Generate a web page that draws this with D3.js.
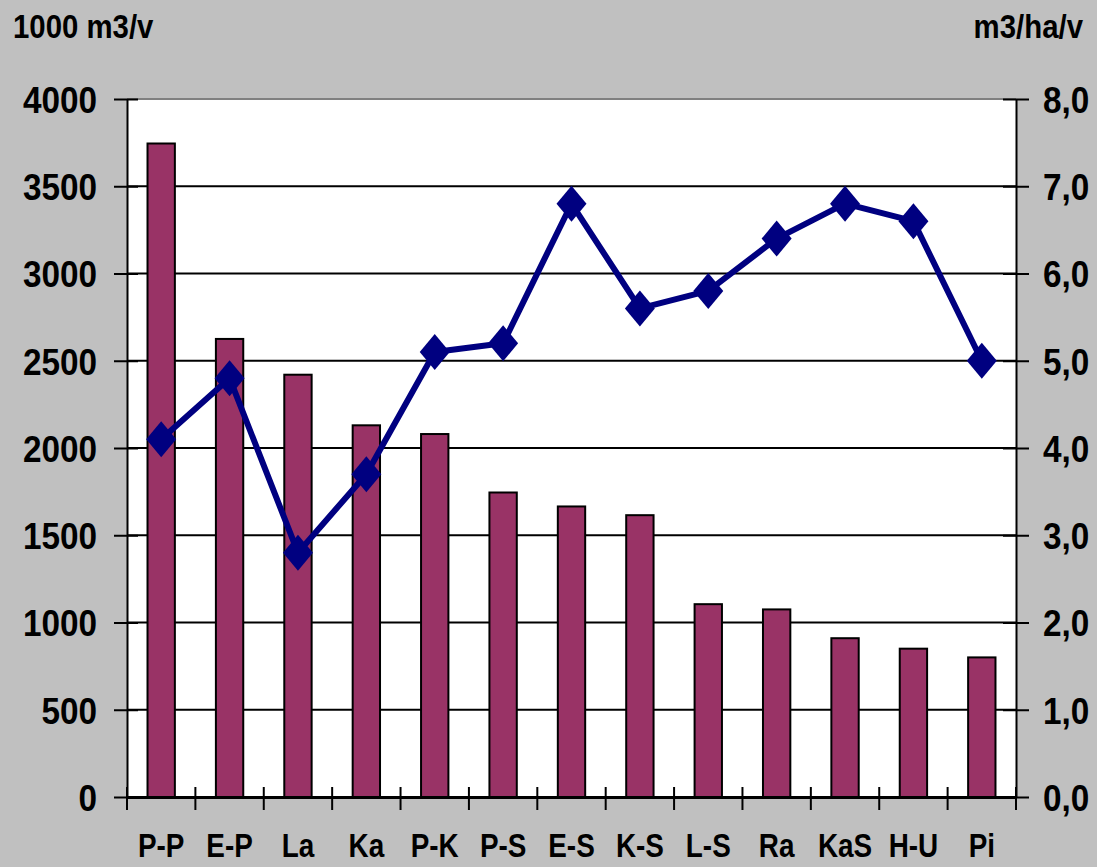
<!DOCTYPE html>
<html>
<head>
<meta charset="utf-8">
<script src="https://cdn.jsdelivr.net/npm/d3@7"></script>
<style>
  html, body { margin: 0; padding: 0; background: #c0c0c0; }
  svg { display: block; font-family: 'Liberation Sans', Arial, sans-serif; font-weight: bold; }
</style>
</head>
<body>
<script>
// Data
const categories = ['P-P', 'E-P', 'La', 'Ka', 'P-K', 'P-S', 'E-S', 'K-S', 'L-S', 'Ra', 'KaS', 'H-U', 'Pi']
const volumes = [3745, 2625, 2420, 2130, 2080, 1745, 1665, 1615, 1105, 1075, 910, 850, 800]   // 1000 m3/v
const growth = [4.1, 4.8, 2.8, 3.7, 5.1, 5.2, 6.8, 5.6, 5.8, 6.4, 6.8, 6.6, 5.0]              // m3/ha/v
const leftTicks = [0, 500, 1000, 1500, 2000, 2500, 3000, 3500, 4000]
const rightTicks = [0, 1, 2, 3, 4, 5, 6, 7, 8]
const leftTitle = '1000 m3/v'
const rightTitle = 'm3/ha/v'

// Dimensions
const width = 1097
const height = 867
const margin = { top: 99, right: 81, bottom: 70, left: 127 }
const innerWidth = width - margin.left - margin.right
const innerHeight = height - margin.top - margin.bottom

const svg = d3.select('body')
  .append('svg')
  .attr('width', width)
  .attr('height', height)
  .attr('viewBox', `0 0 ${width} ${height}`)

svg.append('rect')
  .attr('width', width)
  .attr('height', height)
  .attr('fill', '#c0c0c0')

const g = svg.append('g')
  .attr('transform', `translate(${margin.left}, ${margin.top})`)

// Scales
const xScale = d3.scaleBand().domain(categories).range([0, innerWidth])
const yLeft = d3.scaleLinear().domain([0, 4000]).range([innerHeight, 0])
const yRight = d3.scaleLinear().domain([0, 8]).range([innerHeight, 0])

// The original font is a narrow Arial - squeeze glyphs horizontally
function squeeze(sel, sx) {
  sel.each(function () {
    const w = this.getComputedTextLength()
    d3.select(this)
      .attr('textLength', w * sx)
      .attr('lengthAdjust', 'spacingAndGlyphs')
  })
}

function labelStyle(sel, size) {
  sel.attr('font-size', size)
    .attr('font-weight', 'bold')
    .attr('font-family', 'Liberation Sans, Arial, sans-serif')
    .attr('fill', '#000')
}

// Plot area
g.append('rect')
  .attr('width', innerWidth)
  .attr('height', innerHeight)
  .attr('fill', '#ffffff')

// Gridlines
g.append('g')
  .selectAll('line')
  .data(leftTicks.filter(d => d > 0))
  .join('line')
  .attr('x1', 0)
  .attr('x2', innerWidth)
  .attr('y1', d => yLeft(d))
  .attr('y2', d => yLeft(d))
  .attr('stroke', d => d === 4000 ? '#808080' : '#000')
  .attr('stroke-width', 2)

// Left axis
const leftAxis = g.append('g')
  .call(d3.axisLeft(yLeft).tickValues(leftTicks).tickSizeOuter(0).tickFormat(d3.format('d')))
leftAxis.select('.domain').attr('stroke-width', 2)
leftAxis.selectAll('.tick line').attr('x1', 11).attr('x2', -13).attr('stroke-width', 2)
leftAxis.selectAll('.tick text')
  .call(labelStyle, 37)
  .attr('x', -30)
  .attr('dy', '0.36em')
  .call(squeeze, 0.9)

// Right axis
const rightAxis = g.append('g')
  .attr('transform', `translate(${innerWidth}, 0)`)
  .call(d3.axisRight(yRight).tickValues(rightTicks).tickSizeOuter(0)
    .tickFormat(d => d3.format('.1f')(d).replace('.', ',')))
rightAxis.select('.domain').attr('stroke-width', 2)
rightAxis.selectAll('.tick line').attr('x1', -13).attr('x2', 13).attr('stroke-width', 2)
rightAxis.selectAll('.tick text')
  .call(labelStyle, 37)
  .attr('x', 27)
  .attr('dy', '0.36em')
  .call(squeeze, 0.9)

// Bars
const barWidth = xScale.bandwidth() * 0.4
g.append('g')
  .selectAll('rect')
  .data(categories)
  .join('rect')
  .attr('x', d => xScale(d) + xScale.bandwidth() / 2 - barWidth / 2)
  .attr('y', (d, i) => yLeft(volumes[i]))
  .attr('width', barWidth)
  .attr('height', (d, i) => innerHeight - yLeft(volumes[i]))
  .attr('fill', '#993366')
  .attr('stroke', '#000')
  .attr('stroke-width', 2)

// Bottom axis - labels only, boundary ticks drawn below
const bottomAxis = g.append('g')
  .attr('transform', `translate(0, ${innerHeight})`)
  .call(d3.axisBottom(xScale).tickSize(0).tickSizeOuter(0))
bottomAxis.select('.domain').attr('stroke-width', 3)
bottomAxis.selectAll('.tick text')
  .call(labelStyle, 34)
  .attr('y', 60)
  .attr('dy', 0)
  .call(squeeze, 0.82)

bottomAxis.append('g')
  .selectAll('line')
  .data(d3.range(categories.length + 1))
  .join('line')
  .attr('x1', i => i * xScale.step())
  .attr('x2', i => i * xScale.step())
  .attr('y1', -10)
  .attr('y2', 13)
  .attr('stroke', '#000')
  .attr('stroke-width', 2)

// Growth line
const growthLine = d3.line()
  .x((d, i) => xScale(categories[i]) + xScale.bandwidth() / 2)
  .y(d => yRight(d))

g.append('path')
  .datum(growth)
  .attr('d', growthLine)
  .attr('fill', 'none')
  .attr('stroke', '#000080')
  .attr('stroke-width', 6)
  .attr('stroke-linejoin', 'round')

// Diamond markers
const dw = 15
const dh = 18
g.append('g')
  .selectAll('path')
  .data(growth)
  .join('path')
  .attr('transform', (d, i) => `translate(${xScale(categories[i]) + xScale.bandwidth() / 2}, ${yRight(d)})`)
  .attr('d', `M0,${-dh}L${dw},0L0,${dh}L${-dw},0Z`)
  .attr('fill', '#000080')

// Axis titles
svg.append('text')
  .attr('x', 13)
  .attr('y', 38)
  .call(labelStyle, 33)
  .text(leftTitle)
  .call(squeeze, 0.89)

svg.append('text')
  .attr('x', 1083)
  .attr('y', 38)
  .attr('text-anchor', 'end')
  .call(labelStyle, 33)
  .text(rightTitle)
  .call(squeeze, 0.89)
</script>
</body>
</html>
